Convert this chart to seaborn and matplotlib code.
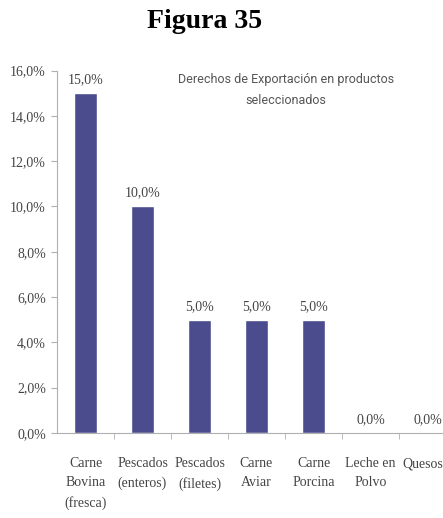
import matplotlib
matplotlib.use("Agg")
import matplotlib.pyplot as plt
import matplotlib.transforms as mtransforms
import seaborn as sns
import pandas as pd

categories = ["Carne\nBovina\n(fresca)", "Pescados\n(enteros)", "Pescados\n(filetes)",
              "Carne\nAviar", "Carne\nPorcina", "Leche en\nPolvo", "Quesos"]
values = [15.0, 10.0, 5.0, 5.0, 5.0, 0.0, 0.0]
yticks = [0, 2, 4, 6, 8, 10, 12, 14, 16]
ytick_labels = ["0,0%", "2,0%", "4,0%", "6,0%", "8,0%", "10,0%", "12,0%", "14,0%", "16,0%"]
fig_title = "Figura 35"
chart_title = "Derechos de Exportación en productos\nseleccionados"

sns.set_style("white")
plt.rcParams['font.family'] = ['Liberation Serif', 'DejaVu Serif']

df = pd.DataFrame({"cat": categories, "val": values})

fig = plt.figure(figsize=(4.43, 5.18), dpi=100)
ax = fig.add_axes([57 / 443, 85 / 518, 399 / 443, 362.5 / 518])

sns.barplot(data=df, x="cat", y="val", color="#4a4c8e", width=0.4, saturation=1, ax=ax)

ax.set_xlim(-0.5, 6.5)
ax.set_ylim(0, 16)
ax.set_yticks(yticks)
ax.set_yticklabels(ytick_labels)
ax.set_xlabel("")
ax.set_ylabel("")

for s in ["top", "right"]:
    ax.spines[s].set_visible(False)
for s in ["left", "bottom"]:
    ax.spines[s].set_color("#b0b0b0")
    ax.spines[s].set_linewidth(0.8)

ax.tick_params(axis="y", which="both", left=True, length=4, color="#b0b0b0",
               labelsize=10, labelcolor="#444444", pad=4)
ax.tick_params(axis="x", which="major", bottom=False, labelsize=10,
               labelcolor="#444444", pad=14)
ax.set_xticks(range(len(categories)))
ax.set_xticklabels(categories, linespacing=1.6, va="top")
ax.set_xticks([i + 0.5 for i in range(len(categories))], minor=True)
ax.tick_params(axis="x", which="minor", bottom=True, length=4, color="#b0b0b0")

# nudge last label so it stays inside the picture
last = ax.get_xticklabels()[-1]
last.set_transform(last.get_transform() +
                   mtransforms.ScaledTranslation(-5 / 100, 0, fig.dpi_scale_trans))

for i, v in enumerate(values):
    ax.annotate(f"{v:.1f}%".replace(".", ","), (i, v), xytext=(0, 5),
                textcoords="offset points", ha="center", va="bottom",
                fontsize=10, color="#444444")

fig.text(286 / 443, 1 - 90 / 518, chart_title, ha="center", va="center",
         fontsize=9, color="#555555", family=["Roboto", "DejaVu Sans"], linespacing=1.9)

fig.text(205 / 443, 1 - 21 / 518, fig_title, ha="center", va="center",
         fontsize=20, fontweight="bold", color="black")

fig.savefig("out.png", dpi=100)
